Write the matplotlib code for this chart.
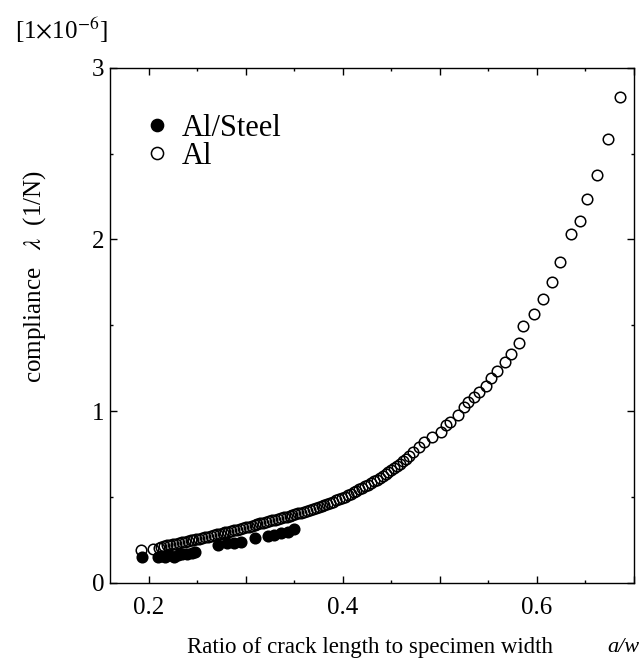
"""Compliance versus crack-length ratio for Al and Al/Steel specimens."""

import matplotlib
matplotlib.use("Agg")
import matplotlib.pyplot as plt
from matplotlib.ticker import MultipleLocator, FuncFormatter

plt.rcParams["font.family"] = ["Liberation Serif", "DejaVu Serif"]
plt.rcParams["mathtext.fontset"] = "stix"

# Al (open circles): crack ratio a/w and compliance [1e-6 1/N]
al_x = [0.192, 0.204,
        0.210, 0.213, 0.216, 0.219, 0.222, 0.225, 0.228, 0.231, 0.234, 0.237,
        0.240, 0.243, 0.246, 0.249, 0.252, 0.255, 0.258, 0.261, 0.264, 0.267,
        0.270, 0.273, 0.276, 0.279, 0.282, 0.285, 0.288, 0.291, 0.294, 0.297,
        0.300, 0.303, 0.306, 0.309, 0.312, 0.315, 0.318, 0.321, 0.324, 0.327,
        0.330, 0.333, 0.336, 0.339, 0.342, 0.345, 0.348, 0.351, 0.354, 0.357,
        0.360, 0.363, 0.366, 0.369, 0.372, 0.375, 0.378, 0.381, 0.384, 0.387,
        0.390, 0.393, 0.396, 0.399, 0.402, 0.405, 0.408, 0.411, 0.414, 0.417,
        0.420, 0.423, 0.426, 0.429, 0.432, 0.435, 0.438, 0.441, 0.444, 0.447,
        0.450, 0.453, 0.456, 0.459, 0.462, 0.465, 0.468,
        0.472, 0.478, 0.484, 0.492, 0.501, 0.506, 0.510, 0.519, 0.525, 0.529,
        0.535, 0.540, 0.547, 0.553, 0.559, 0.567, 0.573, 0.581, 0.586, 0.597,
        0.606, 0.615, 0.624, 0.635, 0.644, 0.652, 0.662, 0.673, 0.686]
al_y = [0.190, 0.195,
        0.205, 0.209, 0.213, 0.217, 0.220, 0.224, 0.228, 0.232, 0.235, 0.239,
        0.243, 0.247, 0.250, 0.254, 0.257, 0.261, 0.265, 0.269, 0.273, 0.277,
        0.281, 0.285, 0.289, 0.293, 0.297, 0.301, 0.305, 0.309, 0.314, 0.318,
        0.322, 0.327, 0.331, 0.336, 0.340, 0.345, 0.349, 0.354, 0.358, 0.363,
        0.367, 0.372, 0.376, 0.381, 0.385, 0.390, 0.394, 0.399, 0.404, 0.408,
        0.413, 0.419, 0.424, 0.430, 0.436, 0.442, 0.448, 0.454, 0.460, 0.466,
        0.472, 0.479, 0.486, 0.493, 0.501, 0.509, 0.517, 0.526, 0.535, 0.543,
        0.552, 0.561, 0.571, 0.580, 0.590, 0.600, 0.610, 0.621, 0.632, 0.643,
        0.655, 0.668, 0.681, 0.694, 0.709, 0.723, 0.738,
        0.763, 0.792, 0.821, 0.850, 0.879, 0.918, 0.938, 0.977, 1.021, 1.054,
        1.083, 1.112, 1.147, 1.190, 1.235, 1.287, 1.332, 1.394, 1.495, 1.566,
        1.652, 1.751, 1.866, 2.029, 2.107, 2.233, 2.374, 2.584, 2.827]

# Al/Steel (filled circles)
steel_x = [0.1925, 0.209, 0.213, 0.217, 0.221, 0.226, 0.230, 0.234, 0.239,
           0.244, 0.248, 0.271, 0.281, 0.288, 0.295, 0.309, 0.323, 0.329,
           0.336, 0.343, 0.350]
steel_y = [0.151, 0.151, 0.155, 0.151, 0.160, 0.151, 0.160, 0.165, 0.168,
           0.172, 0.176, 0.220, 0.229, 0.233, 0.239, 0.259, 0.272, 0.278,
           0.288, 0.297, 0.311]

x_labels = [0.2, 0.4, 0.6]


def main():
    fig = plt.figure(figsize=(6.42, 6.71), dpi=100)
    ax = fig.add_axes([110 / 642, 1 - 582.7 / 671, 524 / 642, 515 / 671])

    ax.plot(al_x, al_y, linestyle="none", marker="o", ms=7.6, mfc="none",
            mec="black", mew=1.1, label="Al", zorder=2)
    ax.plot(steel_x, steel_y, linestyle="none", marker="o", ms=7.6, mfc="black",
            mec="black", mew=1.1, label="Al/Steel", zorder=3)

    ax.set_xlim(0.16, 0.70)
    ax.set_ylim(0, 3)
    ax.xaxis.set_major_locator(MultipleLocator(0.1))
    ax.xaxis.set_minor_locator(MultipleLocator(0.05))
    ax.yaxis.set_major_locator(MultipleLocator(1))
    ax.yaxis.set_minor_locator(MultipleLocator(0.5))
    ax.xaxis.set_major_formatter(FuncFormatter(
        lambda v, p: f"{v:.1f}" if any(abs(v - t) < 1e-6 for t in x_labels) else ""))
    ax.yaxis.set_major_formatter(FuncFormatter(lambda v, p: f"{v:.0f}"))
    ax.tick_params(which="both", direction="in", top=True, right=True,
                   width=1.0, labelsize=18)
    ax.tick_params(which="major", length=5)
    ax.tick_params(which="minor", length=2.5)
    ax.tick_params(axis="x", pad=10)
    ax.tick_params(axis="y", pad=4)
    for s in ax.spines.values():
        s.set_linewidth(1.0)

    handles, labels = ax.get_legend_handles_labels()
    ax.legend(handles[::-1], labels[::-1], loc="upper left",
              bbox_to_anchor=(0.032, 0.94), frameon=False, fontsize=22,
              handlelength=1.0, handletextpad=0.3, borderpad=0,
              labelspacing=-0.04, markerscale=1.15)

    fig.text(15 / 642, 1 - 30 / 671, r"[1$\times$10$^{-6}$]", fontsize=18,
             ha="left", va="center")
    fig.text(35 / 642, 1 - 277 / 671, r"compliance   $\lambda$  (1/N)",
             fontsize=18, rotation=90, ha="center", va="center")
    fig.text(370 / 642, 1 - 648 / 671, "Ratio of crack length to specimen width",
             fontsize=16.5, ha="center", va="center")
    fig.text(623 / 642, 1 - 648 / 671, "a/w", fontsize=16, style="italic",
             ha="center", va="center")

    fig.savefig("out.png", dpi=100)


if __name__ == "__main__":
    main()
